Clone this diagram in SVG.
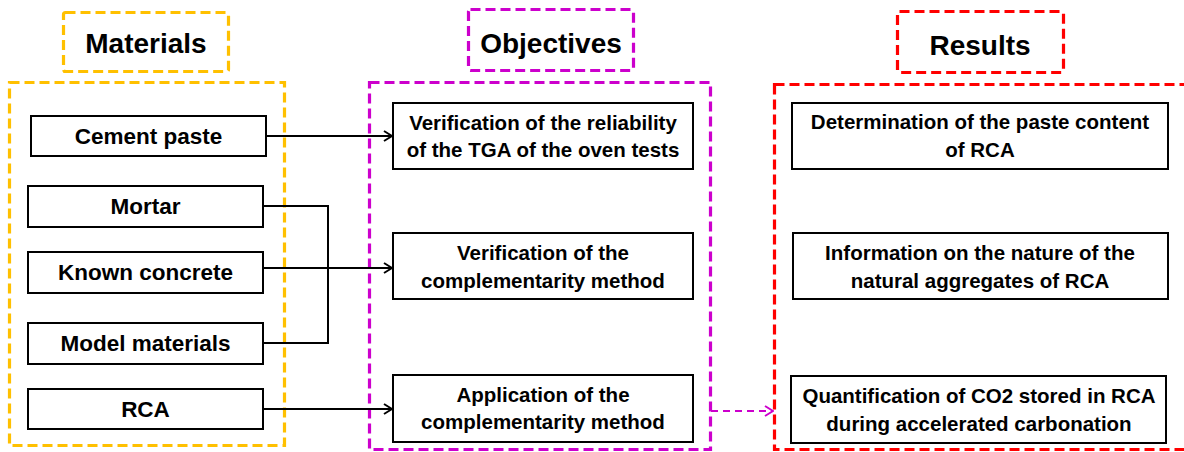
<svg xmlns="http://www.w3.org/2000/svg" width="1184" height="452" viewBox="0 0 1184 452">
<defs>
<style>
.t{font-family:"Liberation Sans",Arial,sans-serif;font-weight:bold;fill:#000;text-anchor:middle}
.title{font-size:28px}
.mat{font-size:22.5px}
.txt{font-size:20.5px}
.box{fill:#fff;stroke:#000;stroke-width:2}
.dash{fill:none;stroke-width:3.2;stroke-dasharray:10 5}
.or{stroke:#FFC000}
.mg{stroke:#CC00CC}
.rd{stroke:#FF0000}
.con{fill:none;stroke:#000;stroke-width:2}
</style>
<marker id="ah" viewBox="0 0 10 12" refX="9" refY="6" markerWidth="10" markerHeight="12" markerUnits="userSpaceOnUse" orient="auto">
<path d="M1,1 L9,6 L1,11" fill="none" stroke="#000" stroke-width="2"/>
</marker>
<marker id="ahm" viewBox="0 0 10 12" refX="9" refY="6" markerWidth="10" markerHeight="12" markerUnits="userSpaceOnUse" orient="auto">
<path d="M1,1 L9,6 L1,11" fill="none" stroke="#CC00CC" stroke-width="2"/>
</marker>
</defs>
<rect width="1184" height="452" fill="#fff"/>

<g id="materials-group">
<rect class="dash or" x="63.5" y="12.5" width="165" height="59" rx="2"/>
<text class="t title" x="146" y="53">Materials</text>
<rect class="dash or" x="9.5" y="82.5" width="275" height="363"/>
</g>
<g id="objectives-group">
<rect class="dash mg" x="468.5" y="9.5" width="165" height="61" rx="2"/>
<text class="t title" x="551" y="53">Objectives</text>
<rect class="dash mg" x="369.5" y="82.5" width="341" height="367"/>
</g>
<g id="results-group">
<rect class="dash rd" x="897.5" y="11.5" width="166" height="61" rx="2"/>
<text class="t title" x="980" y="55">Results</text>
<rect class="dash rd" x="774.5" y="84.5" width="420" height="365"/>
</g>

<g id="connectors">
<line class="con" x1="266" y1="136" x2="392" y2="136" marker-end="url(#ah)"/>
<polyline class="con" points="263,206 328,206 328,343 263,343"/>
<line class="con" x1="263" y1="268" x2="392" y2="268" marker-end="url(#ah)"/>
<line class="con" x1="263" y1="409" x2="392" y2="409" marker-end="url(#ah)"/>
<line x1="711" y1="411" x2="773" y2="411" stroke="#CC00CC" stroke-width="2" stroke-dasharray="7 5" marker-end="url(#ahm)"/>
</g>

<g id="cement-paste">
<rect class="box" x="31" y="116" width="235" height="40"/>
<text class="t mat" x="148.5" y="144">Cement paste</text>
</g>
<g id="mortar">
<rect class="box" x="28" y="186" width="235" height="41"/>
<text class="t mat" x="145.5" y="214">Mortar</text>
</g>
<g id="known-concrete">
<rect class="box" x="28" y="252" width="235" height="41"/>
<text class="t mat" x="145.5" y="280">Known concrete</text>
</g>
<g id="model-materials">
<rect class="box" x="28" y="323" width="235" height="41"/>
<text class="t mat" x="145.5" y="351">Model materials</text>
</g>
<g id="rca">
<rect class="box" x="28" y="389" width="235" height="40"/>
<text class="t mat" x="145.5" y="417">RCA</text>
</g>

<g id="obj-tga">
<rect class="box" x="393" y="103" width="300" height="66"/>
<text class="t txt" x="543" y="130">Verification of the reliability</text>
<text class="t txt" x="543" y="157">of the TGA of the oven tests</text>
</g>
<g id="obj-verify">
<rect class="box" x="393" y="233" width="300" height="66"/>
<text class="t txt" x="543" y="260">Verification of the</text>
<text class="t txt" x="543" y="288">complementarity method</text>
</g>
<g id="obj-apply">
<rect class="box" x="393" y="375" width="300" height="67"/>
<text class="t txt" x="543" y="402">Application of the</text>
<text class="t txt" x="543" y="429">complementarity method</text>
</g>

<g id="res-paste">
<rect class="box" x="792" y="103" width="376" height="66"/>
<text class="t txt" x="980" y="129">Determination of the paste content</text>
<text class="t txt" x="980" y="157">of RCA</text>
</g>
<g id="res-nature">
<rect class="box" x="793" y="233" width="375" height="66"/>
<text class="t txt" x="980" y="260">Information on the nature of the</text>
<text class="t txt" x="980" y="288">natural aggregates of RCA</text>
</g>
<g id="res-co2">
<rect class="box" x="791" y="376" width="375" height="67"/>
<text class="t txt" x="979" y="403">Quantification of CO2 stored in RCA</text>
<text class="t txt" x="979" y="431">during accelerated carbonation</text>
</g>
</svg>
